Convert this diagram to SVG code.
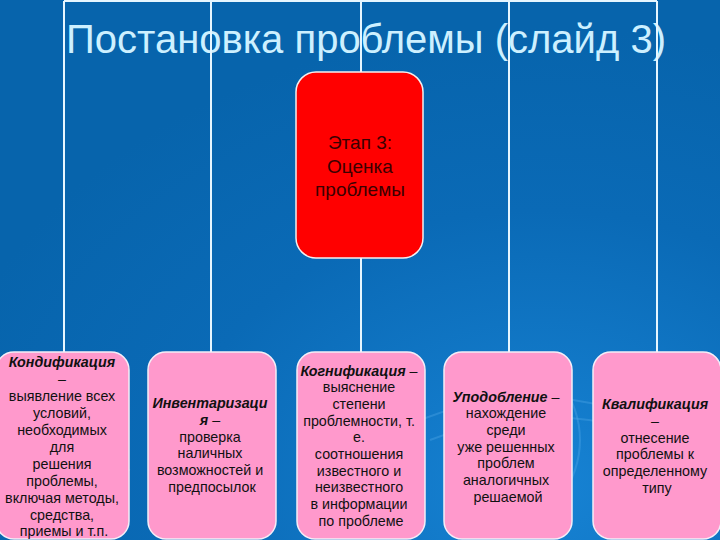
<svg xmlns="http://www.w3.org/2000/svg" width="720" height="540" viewBox="0 0 720 540">
<defs>
<radialGradient id="bg" cx="0.75" cy="0.9" r="0.85">
<stop offset="0" stop-color="#1783d4"/>
<stop offset="0.6" stop-color="#0a6ab6"/>
<stop offset="1" stop-color="#0764ac"/>
</radialGradient>
<style>
.ln{stroke:#e6f6ff;stroke-width:2;fill:none}
.pk{fill:#ff99cc;stroke:#f4eef8;stroke-width:1.5}
.rd{fill:#ff0000;stroke:#f4f0f0;stroke-width:1.5}
.t{font-family:"Liberation Sans",Arial,sans-serif;font-size:14.3px;fill:#111;text-anchor:middle}
.b{font-weight:bold;font-style:italic}
.big{font-family:"Liberation Sans",Arial,sans-serif;font-size:19px;fill:#3a0000;text-anchor:middle}
.sw{fill:none;stroke:#5fb4ee;stroke-width:2;opacity:0.3}
</style>
</defs>
<rect width="720" height="540" fill="url(#bg)"/>
<g id="swirls">
<path class="sw" d="M420 420 Q520 380 620 410"/>
<path class="sw" d="M430 440 Q530 400 640 430"/>
<path class="sw" d="M560 380 Q600 440 560 500"/>
<path class="sw" d="M30 480 Q80 460 130 470"/>
</g>
<text x="366" y="53" font-family="Liberation Sans, Arial, sans-serif" font-size="40" fill="#cdf0ff" text-anchor="middle">Постановка проблемы (слайд 3)</text>
<g id="connectors">
<path class="ln" d="M64 1 H657"/>
<path class="ln" d="M64 1 V353"/>
<path class="ln" d="M211 1 V353"/>
<path class="ln" d="M361 1 V72"/>
<path class="ln" d="M361 258 V353"/>
<path class="ln" d="M509 1 V353"/>
<path class="ln" d="M657 1 V353"/>
</g>
<g id="stage3">
<rect class="rd" x="296" y="72" width="127" height="186" rx="20"/>
<text class="big"><tspan x="360" y="149">Этап 3:</tspan><tspan x="360" y="173">Оценка</tspan><tspan x="360" y="196">проблемы</tspan></text>
</g>
<g id="n1">
<rect class="pk" x="-4" y="352" width="133" height="187" rx="18"/>
<text class="t">
<tspan x="64" y="367" class="b">Кондификация</tspan>
<tspan x="64" y="384">–</tspan>
<tspan x="64" y="401">выявление всех</tspan>
<tspan x="64" y="418">условий,</tspan>
<tspan x="64" y="435">необходимых</tspan>
<tspan x="64" y="452">для</tspan>
<tspan x="64" y="469">решения</tspan>
<tspan x="64" y="486">проблемы,</tspan>
<tspan x="64" y="503">включая методы,</tspan>
<tspan x="64" y="520">средства,</tspan>
<tspan x="64" y="536">приемы и т.п.</tspan>
</text>
</g>
<g id="n2">
<rect class="pk" x="148" y="352" width="128" height="187" rx="18"/>
<text class="t">
<tspan x="212" y="408" class="b">Инвентаризаци</tspan>
<tspan x="212" y="425"><tspan class="b">я</tspan> –</tspan>
<tspan x="212" y="442">проверка</tspan>
<tspan x="212" y="458">наличных</tspan>
<tspan x="212" y="475">возможностей и</tspan>
<tspan x="212" y="492">предпосылок</tspan>
</text>
</g>
<g id="n3">
<rect class="pk" x="297" y="352" width="128" height="187" rx="18"/>
<text class="t">
<tspan x="361" y="376"><tspan class="b">Когнификация</tspan> –</tspan>
<tspan x="361" y="392">выяснение</tspan>
<tspan x="361" y="409">степени</tspan>
<tspan x="361" y="426">проблемности, т.</tspan>
<tspan x="361" y="442">е.</tspan>
<tspan x="361" y="459">соотношения</tspan>
<tspan x="361" y="476">известного и</tspan>
<tspan x="361" y="492">неизвестного</tspan>
<tspan x="361" y="509">в информации</tspan>
<tspan x="361" y="526">по проблеме</tspan>
</text>
</g>
<g id="n4">
<rect class="pk" x="444" y="352" width="128" height="187" rx="18"/>
<text class="t">
<tspan x="508" y="402"><tspan class="b">Уподобление</tspan> –</tspan>
<tspan x="508" y="418">нахождение</tspan>
<tspan x="508" y="435">среди</tspan>
<tspan x="508" y="452">уже решенных</tspan>
<tspan x="508" y="468">проблем</tspan>
<tspan x="508" y="485">аналогичных</tspan>
<tspan x="508" y="502">решаемой</tspan>
</text>
</g>
<g id="n5">
<rect class="pk" x="593" y="352" width="128" height="187" rx="18"/>
<text class="t">
<tspan x="657" y="409" class="b">Квалификация</tspan>
<tspan x="657" y="426">–</tspan>
<tspan x="657" y="443">отнесение</tspan>
<tspan x="657" y="459">проблемы к</tspan>
<tspan x="657" y="476">определенному</tspan>
<tspan x="657" y="493">типу</tspan>
</text>
</g>
</svg>
